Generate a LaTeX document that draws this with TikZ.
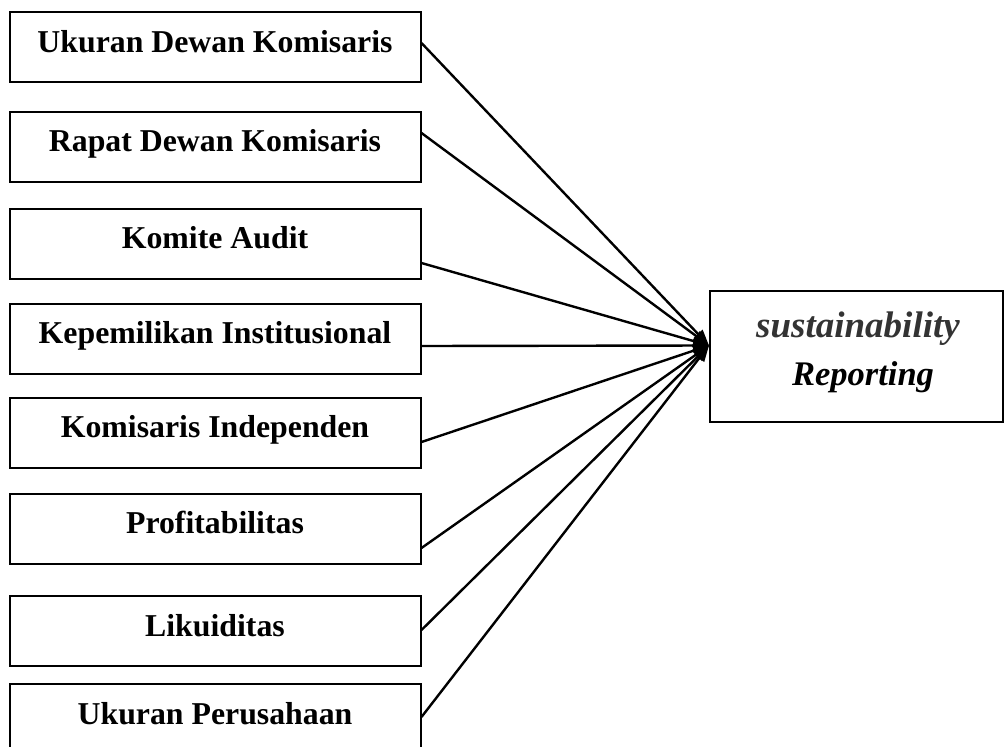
\documentclass[tikz,border=0pt]{standalone}
\usepackage{fontspec}
\setmainfont{Liberation Serif}
\usetikzlibrary{arrows.meta}
\begin{document}
\begin{tikzpicture}[x=1pt,y=-1pt,
  varbox/.style={draw,line width=2pt,minimum width=411pt,minimum height=70pt,inner sep=0pt,
    text height=22pt,text depth=12pt,
    font=\fontsize{31.8}{36}\selectfont\bfseries},
  dvbox/.style={draw,line width=2pt,minimum width=293pt,minimum height=131pt,inner sep=0pt},
  link/.style={line width=2.4pt,-{Triangle[length=16pt,width=12pt]}}]
\useasboundingbox (0,0) rectangle (1005,747);
\node[varbox] (b1) at (215,47) {Ukuran Dewan Komisaris};
\node[varbox] (b2) at (215,146.5) {Rapat Dewan Komisaris};
\node[varbox] (b3) at (215,243.5) {Komite Audit};
\node[varbox] (b4) at (215,338.5) {Kepemilikan Institusional};
\node[varbox] (b5) at (215,432.5) {Komisaris Independen};
\node[varbox] (b6) at (215,528.5) {Profitabilitas};
\node[varbox] (b7) at (215,631) {Likuiditas};
\node[varbox] (b8) at (215,719) {Ukuran Perusahaan};
\node[dvbox] (r) at (856.5,356.5) {};
\node[font=\fontsize{37}{48}\selectfont\bfseries\itshape,text=black!80,anchor=base,inner sep=0pt] (r1) at (858,337) {sustainability};
\node[font=\fontsize{34.5}{48}\selectfont\bfseries\itshape,anchor=base,inner sep=0pt] (r2) at (863,385) {Reporting};
\coordinate (tip) at ([yshift=11pt]r.west);
\draw[link] ([yshift=4pt]b1.east) -- (tip);
\draw[link] ([yshift=13.5pt]b2.east) -- (tip);
\draw[link] ([yshift=-19.5pt]b3.east) -- (tip);
\draw[link] ([yshift=-7.5pt]b4.east) -- (tip);
\draw[link] ([yshift=-9.5pt]b5.east) -- (tip);
\draw[link] ([yshift=-19.5pt]b6.east) -- (tip);
\draw[link] ([yshift=1pt]b7.east) -- (tip);
\draw[link] ([yshift=2pt]b8.east) -- (tip);
\end{tikzpicture}
\end{document}
